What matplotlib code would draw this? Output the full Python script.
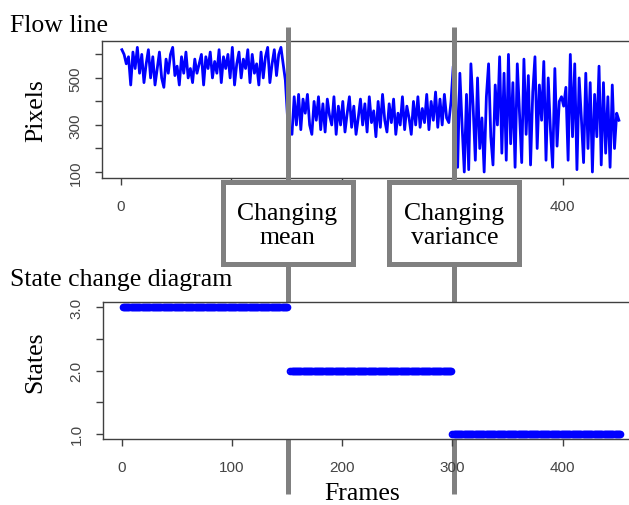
import numpy as np
import matplotlib
matplotlib.use("Agg")
import matplotlib.pyplot as plt
from matplotlib.patches import Rectangle
from matplotlib.transforms import blended_transform_factory

# flow line, one reading every 2 frames
flow_mean_high = [
    620, 600, 560, 590, 470, 610, 540, 630, 520, 600, 480, 560, 620, 500, 590,
    470, 540, 610, 500, 460, 580, 520, 600, 630, 510, 550, 470, 590, 520, 610,
    500, 540, 480, 580, 520, 560, 600, 470, 590, 540, 610, 500, 570, 520, 620,
    480, 590, 540, 600, 500, 630, 470, 560, 610, 500, 580, 540, 620, 480, 600,
    520, 560, 470, 610, 500, 590, 630, 480, 560, 620, 510, 600, 630, 560, 490,
]
flow_mean_low = [
    330, 270, 260, 420, 300, 430, 280, 410, 350, 430, 300, 260, 400, 320, 420,
    280, 390, 270, 410, 340, 300, 420, 260, 380, 300, 400, 270, 350, 420, 290,
    380, 260, 330, 410, 300, 390, 270, 420, 310, 360, 250, 400, 290, 430, 320,
    270, 390, 310, 410, 260, 350, 300, 420, 280, 380, 330, 260, 400, 300, 420,
    290, 370, 310, 430, 280, 400, 320, 440, 290, 410, 300, 430, 330, 310, 400,
]
flow_var_high = [
    550, 480, 120, 520, 300, 100, 430, 110, 560, 380, 150, 500, 200, 330, 100,
    420, 560, 250, 130, 470, 300, 590, 180, 520, 150, 600, 220, 480, 120, 560,
    350, 140, 580, 260, 510, 130, 440, 590, 200, 470, 320, 570, 150, 500, 280,
    120, 540, 210, 400, 420, 380, 460, 150, 600, 250, 560, 110, 500, 330, 140,
    520, 200, 480, 100, 430, 250, 550, 130, 480, 180, 420, 120, 470, 200, 350, 320,
]
flow = np.array(flow_mean_high + flow_mean_low + flow_var_high)
flow_frames = np.arange(1, 2 * len(flow), 2)

# detected states
state_levels = [3, 2, 1]
state_starts = [1, 153, 300]
state_ends = [150, 299, 452]

change_points = [151, 302]
change_labels = ["Changing\nmean", "Changing\nvariance"]

x_ticks = [0, 100, 200, 300, 400]

SERIF = "Liberation Serif"
SANS = "Liberation Sans"
TICK_COL = "#444444"
GRAY = "#808080"
W, H = 629, 506


def fx(px):
    return px / W


def fy(py):
    return 1 - py / H


def style_axes(ax):
    for s in ax.spines.values():
        s.set_color("#404040")
        s.set_linewidth(1.0)
    ax.tick_params(length=5, width=1, color="#404040", labelcolor=TICK_COL,
                   labelsize=11)
    ax.tick_params(axis="x", pad=10)
    ax.tick_params(axis="y", pad=9)
    for lab in ax.get_xticklabels() + ax.get_yticklabels():
        lab.set_fontfamily(SANS)
    for lab in ax.get_yticklabels():
        lab.set_rotation(90)
        lab.set_va("center")


fig = plt.figure(figsize=(W / 100, H / 100), dpi=100)

# top panel: flow line
ax1 = fig.add_axes([fx(102), fy(179), fx(641 - 102), (179 - 42) / H])
ax1.plot(flow_frames, flow, color="#0000FF", lw=2.0)
ax1.set_xlim(-17, 471)
ax1.set_ylim(74.5, 657)
ax1.set_xticks(x_ticks)
# 100-300 labels sit under the boxes
ax1.set_xticklabels(["0", "", "", "", "400"])
ax1.set_yticks([100, 200, 300, 400, 500, 600])
ax1.set_yticklabels(["100", "", "300", "", "500", ""])
style_axes(ax1)

# bottom panel: states
ax2 = fig.add_axes([fx(103), fy(440), fx(641 - 103), (440 - 303) / H])
for lvl, a, b in zip(state_levels, state_starts, state_ends):
    fr = np.arange(a, b + 1)
    ax2.plot(fr, np.full(len(fr), lvl), ls="none", marker="o", ms=4,
             mfc="none", mec="#0000FF", mew=1.5)
ax2.set_xlim(-17, 471)
ax2.set_ylim(0.92, 3.08)
ax2.set_xticks(x_ticks)
ax2.set_yticks([1.0, 1.5, 2.0, 2.5, 3.0])
ax2.set_yticklabels(["1.0", "", "2.0", "", "3.0"])
style_axes(ax2)

# change-point lines across both panels, with labelled boxes
trans = blended_transform_factory(ax1.transData, fig.transFigure)
for cp, txt in zip(change_points, change_labels):
    ax1.plot([cp, cp], [fy(495), fy(28)], transform=trans, color=GRAY,
             lw=3.6, clip_on=False, zorder=10, solid_capstyle="butt")
    cx = fig.transFigure.inverted().transform(ax1.transData.transform((cp, 0)))[0]
    bw, bh = 130 / W, 82 / H
    box = Rectangle((cx - bw / 2, fy(265)), bw, bh, transform=fig.transFigure,
                    facecolor="white", edgecolor=GRAY, lw=3.6, zorder=11)
    fig.add_artist(box)
    fig.text(cx, fy(226), txt, ha="center", va="center", family=SERIF,
             fontsize=18.5, linespacing=1.1, zorder=12)

fig.text(fx(10), fy(32), "Flow line", family=SERIF, fontsize=18.5, va="baseline")
fig.text(fx(10), fy(286), "State change diagram", family=SERIF, fontsize=18.5,
         va="baseline")
fig.text(fx(36), fy(111), "Pixels", family=SERIF, fontsize=18.5, rotation=90,
         ha="center", va="center")
fig.text(fx(35), fy(362), "States", family=SERIF, fontsize=18.5, rotation=90,
         ha="center", va="center")
fig.text(fx(362), fy(494), "Frames", family=SERIF, fontsize=18.5,
         ha="center", va="center")

fig.savefig("out.png", dpi=100)
